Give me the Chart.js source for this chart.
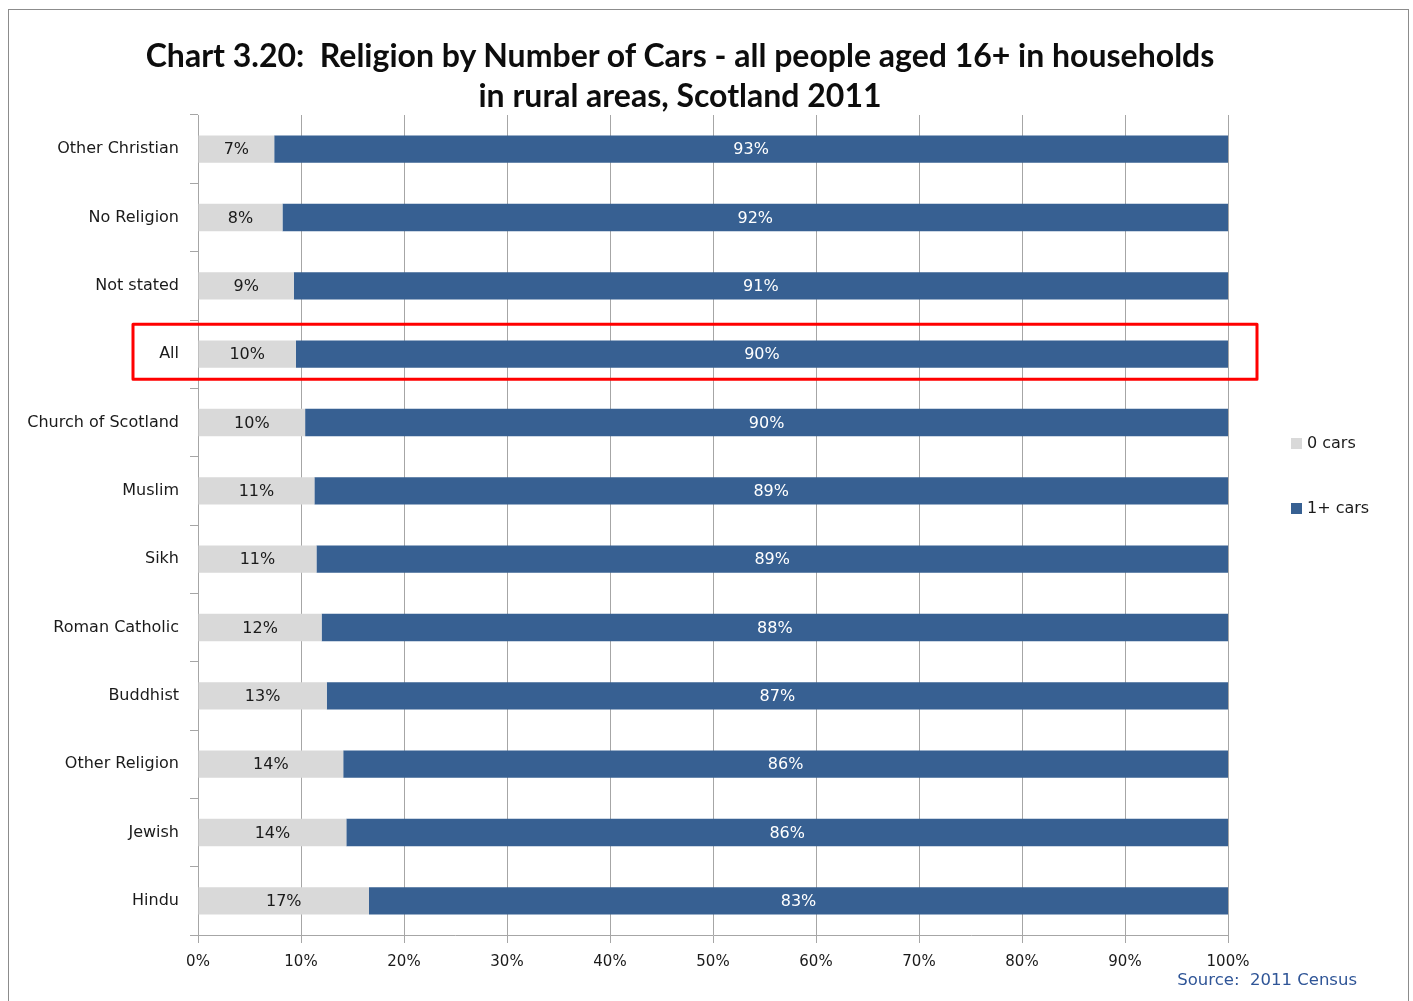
<!DOCTYPE html>
<html>
<head>
<meta charset="utf-8">
<title>Chart 3.20</title>
<script src="https://cdn.jsdelivr.net/npm/chart.js@4.4.0/dist/chart.umd.min.js"></script>
<style>
    body { margin: 0; background: #fff; }
    #wrap { position: relative; width: 1413px; height: 1001px; overflow: hidden; }
    #frame { position: absolute; left: 8px; top: 9px; width: 1399px; height: 1100px; border: 1px solid #8c8c8c; }
    canvas { position: absolute; left: 0; top: 0; }
    #title {
        position: absolute; left: 80px; width: 1200px; top: 35px; text-align: center;
        font: bold 32px Lato; line-height: 40px; color: #0d0d0d; white-space: nowrap;
    }
</style>
</head>
<body>
<div id="wrap">
    <div id="frame"></div>
    <canvas id="carsChart" width="1413" height="1001"></canvas>
    <div id="title">Chart 3.20:&nbsp; Religion by Number of Cars - all people aged 16+ in households<br>in rural areas, Scotland 2011</div>
</div>
<script>
// categories, top to bottom
const religions = ["Other Christian", "No Religion", "Not stated", "All", "Church of Scotland", "Muslim",
    "Sikh", "Roman Catholic", "Buddhist", "Other Religion", "Jewish", "Hindu"];

// share of people (%)
const zeroCars = [7.4, 8.2, 9.3, 9.5, 10.4, 11.3, 11.5, 12.0, 12.5, 14.1, 14.4, 16.6];
const onePlusCars = [92.6, 91.8, 90.7, 90.5, 89.6, 88.7, 88.5, 88.0, 87.5, 85.9, 85.6, 83.4];

// the labels printed on the bars
const zeroLabels = ["7%", "8%", "9%", "10%", "10%", "11%", "11%", "12%", "13%", "14%", "14%", "17%"];
const onePlusLabels = ["93%", "92%", "91%", "90%", "90%", "89%", "89%", "88%", "87%", "86%", "86%", "83%"];

// x axis ticks
const xTicks = [0, 10, 20, 30, 40, 50, 60, 70, 80, 90, 100];

const highlighted = "All";
const labelFont = "16px 'DejaVu Sans'";

document.addEventListener("DOMContentLoaded", () => {
    const ctx = document.getElementById("carsChart").getContext("2d");

    // text in the middle of every bar piece
    const barLabels = {
        id: "barLabels",
        afterDatasetsDraw(chart) {
            const c = chart.ctx;
            const texts = [zeroLabels, onePlusLabels];
            c.save();
            c.font = labelFont;
            c.textAlign = "center";
            c.textBaseline = "middle";
            chart.data.datasets.forEach((ds, i) => {
                chart.getDatasetMeta(i).data.forEach((bar, j) => {
                    const p = bar.getProps(["x", "y", "base"], true);
                    c.fillStyle = i === 0 ? "#1a1a1a" : "#ffffff";
                    c.fillText(texts[i][j], (p.x + p.base) / 2, p.y + 1);
                });
            });
            c.restore();
        }
    };

    // red box round the "All" row
    const highlightBox = {
        id: "highlightBox",
        afterDatasetsDraw(chart) {
            const y = chart.scales.y;
            const x = chart.scales.x;
            const yc = y.getPixelForValue(religions.indexOf(highlighted));
            const c = chart.ctx;
            c.save();
            c.strokeStyle = "#ff0000";
            c.lineWidth = 3;
            c.lineJoin = "round";
            c.strokeRect(x.getPixelForValue(0) - 65, yc - 30, x.getPixelForValue(100) - x.getPixelForValue(0) + 94, 55);
            c.restore();
        }
    };

    // legend on the right and source note
    const sideLegend = {
        id: "sideLegend",
        afterDraw(chart) {
            const c = chart.ctx;
            c.save();
            c.font = labelFont;
            c.textBaseline = "middle";
            c.textAlign = "left";
            const rows = [444, 509];
            chart.data.datasets.forEach((ds, i) => {
                c.fillStyle = ds.backgroundColor;
                c.fillRect(1291, rows[i] - 6, 11, 11);
                c.fillStyle = "#1a1a1a";
                c.fillText(ds.label, 1307, rows[i]);
            });
            c.font = "16.5px 'DejaVu Sans'";
            c.fillStyle = "#2f5597";
            c.textAlign = "right";
            c.fillText("Source:  2011 Census", 1357, 981);
            c.restore();
        }
    };

    new Chart(ctx, {
        type: "bar",
        data: {
            labels: religions,
            datasets: [
                { label: "0 cars", data: zeroCars, backgroundColor: "#d9d9d9" },
                { label: "1+ cars", data: onePlusCars, backgroundColor: "#376092" }
            ]
        },
        options: {
            indexAxis: "y",
            responsive: false,
            animation: false,
            categoryPercentage: 1,
            barPercentage: 0.4,
            layout: { padding: { left: 0, right: 185, top: 115, bottom: 0 } },
            plugins: {
                legend: { display: false },
                tooltip: { enabled: false },
                title: { display: false }
            },
            scales: {
                x: {
                    stacked: true,
                    min: 0,
                    max: 100,
                    afterBuildTicks: (axis) => { axis.ticks = xTicks.map(v => ({ value: v })); },
                    afterFit: (axis) => { axis.height = 66; },
                    ticks: {
                        callback: (v) => v + "%",
                        color: "#1a1a1a",
                        font: { family: "DejaVu Sans", size: 15 },
                        padding: 10,
                        maxRotation: 0
                    },
                    grid: { color: "#a6a6a6", tickLength: 8 },
                    border: { color: "#a6a6a6" }
                },
                y: {
                    stacked: true,
                    afterFit: (axis) => { axis.width = 198; },
                    ticks: {
                        color: "#1a1a1a",
                        font: { family: "DejaVu Sans", size: 16 },
                        padding: 11
                    },
                    grid: { drawOnChartArea: false, offset: true, color: "#a6a6a6", tickLength: 8 },
                    border: { color: "#a6a6a6" }
                }
            }
        },
        plugins: [barLabels, highlightBox, sideLegend]
    });
});
</script>
</body>
</html>
